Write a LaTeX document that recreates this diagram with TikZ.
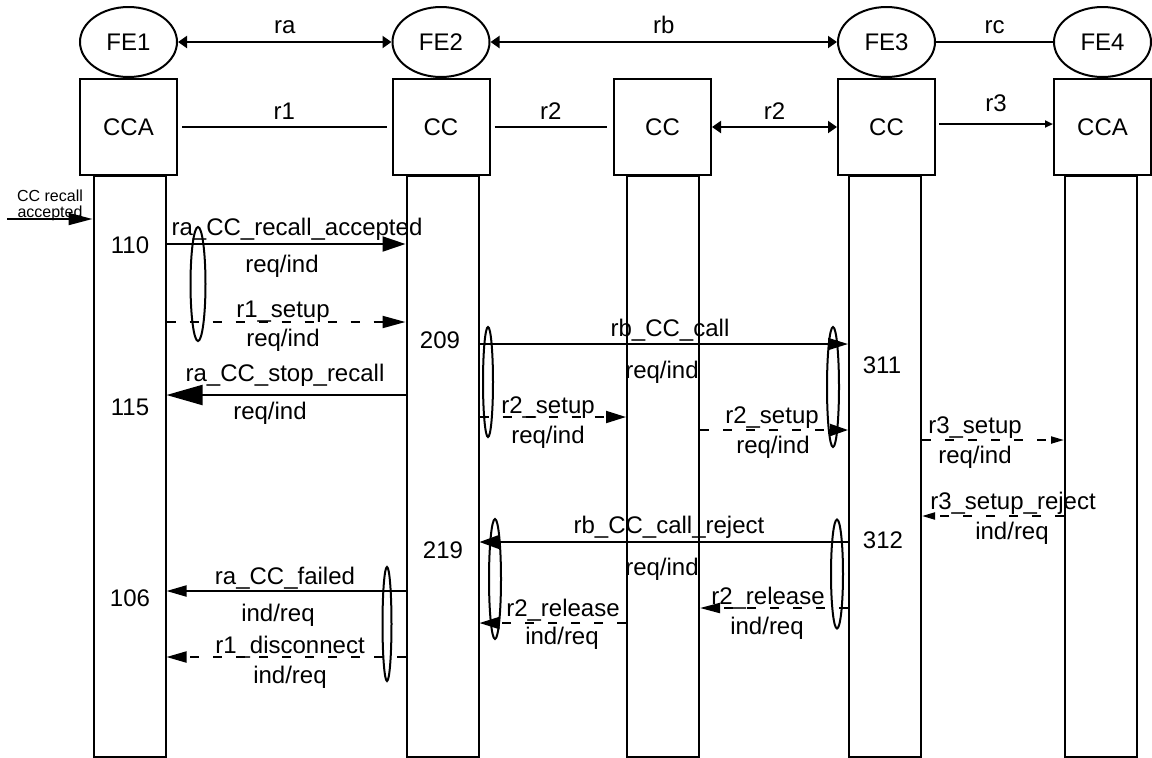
\documentclass[tikz,border=0pt]{standalone}
\usepackage{fontspec}
\setmainfont{Liberation Sans}
\usetikzlibrary{arrows.meta,positioning,shapes.geometric,calc}

\begin{document}
\begin{tikzpicture}[x=0.5pt, y=-0.5pt, line width=1pt,
  every node/.style={font=\fontsize{12}{14}\selectfont, inner sep=0pt},
  fe/.style={draw, ellipse, minimum width=48.5pt, minimum height=35pt},
  blk/.style={draw, minimum width=48.5pt, minimum height=48pt},
  life/.style={draw, anchor=north, minimum width=36pt, minimum height=290.5pt},
  sig/.style 2 args={-{Triangle[length=#1, width=#2]}},
  bi/.style={{Triangle[length=4.5pt, width=6pt]}-{Triangle[length=4.5pt, width=6pt]}},
  dsh/.style={dash pattern=on 4.5pt off 7pt},
  lnk/.style={midway, above=3.5pt}]
\useasboundingbox (0,0) rectangle (1152,757);

% Functional entities
\node[fe] (FE1) at (128.5,42) {FE1};
\node[fe] (FE2) at (441,42) {FE2};
\node[fe] (FE3) at (886.5,42) {FE3};
\node[fe] (FE4) at (1102.5,42) {FE4};
\node[blk] (A1) at (128.5,127) {CCA};
\node[blk] (A2) at (441,127) {CC};
\node[blk] (A3) at (662.5,127) {CC};
\node[blk] (A4) at (886.5,127) {CC};
\node[blk] (A5) at (1102.5,127) {CCA};

% Relationships
\draw[bi] (FE1) -- (FE2) node[lnk] (lra) {ra};
\draw[bi] (FE2) -- (FE3) node[lnk] (lrb) {rb};
\draw (FE3) -- (FE4) node[lnk] (lrc) {rc};
\draw ([xshift=2pt]A1.east) -- ([xshift=-2.5pt]A2.west) node[lnk] (lr1) {r1};
\draw ([xshift=2pt]A2.east) -- ([xshift=-3pt]A3.west) node[lnk] (lr2a) {r2};
\draw[bi] (A3) -- (A4) node[lnk] (lr2b) {r2};
\draw[-{Triangle[length=4pt, width=3.5pt]}] ([xshift=1.5pt, yshift=1.5pt]A4.east) -- ([yshift=1.5pt]A5.west)
  node[midway, above=5.5pt] (lr3) {r3};

% Lifelines
\node[life] (L1) at (129.5,175) {};
\node[life] (L2) at (442.5,175) {};
\node[life] (L3) at (663,175) {};
\node[life] (L4) at (885,175) {};
\node[life] (L5) at (1101,175) {};

% Input from the user side
\node[align=center, font=\fontsize{8}{8}\selectfont] (inp) at (50,205) {CC recall\\accepted};
\coordinate (inS) at (7,219);
\draw[sig={12pt}{6pt}] (inS) -- (L1.west |- inS);

% FE1 -> FE2
\draw[sig={11.5pt}{7.5pt}] (L1.east |- 0,244) -- (L2.west |- 0,244);
\node (m1a) at (297,229) {ra\_CC\_recall\_accepted};
\node (m1b) at (282,266) {req/ind};
\draw[dsh, sig={11.5pt}{6pt}] (L1.east |- 0,322) -- (L2.west |- 0,322);
\node (m2a) at (283,312) {r1\_setup};
\node (m2b) at (283,340) {req/ind};
\draw[sig={18pt}{10pt}] (L2.west |- 0,395) -- (L1.east |- 0,395);
\node (m3a) at (285,375) {ra\_CC\_stop\_recall};
\node (m3b) at (270,413) {req/ind};

% FE2 -> FE3
\draw[sig={10pt}{6pt}] (L2.east |- 0,344) -- (L4.west |- 0,344);
\node (m4a) at (670,330) {rb\_CC\_call};
\node (m4b) at (662,372) {req/ind};
\draw[dsh, sig={10pt}{6pt}] (L2.east |- 0,417) -- (L3.west |- 0,417);
\node (m5a) at (548,408) {r2\_setup};
\node (m5b) at (548,437) {req/ind};
\draw[dsh, sig={9pt}{6pt}] (L3.east |- 0,430) -- (L4.west |- 0,430);
\node (m6a) at (772,418) {r2\_setup};
\node (m6b) at (773,447) {req/ind};

% FE3 -> FE4
\draw[dsh, sig={6.5pt}{3.5pt}] (L4.east |- 0,440) -- (L5.west |- 0,440);
\node (m7a) at (975,428) {r3\_setup};
\node (m7b) at (975,457) {req/ind};
\draw[dsh, sig={6.5pt}{3.5pt}] (L5.west |- 0,516) -- (L4.east |- 0,516);
\node (m8a) at (1013,503) {r3\_setup\_reject};
\node (m8b) at (1012,533) {ind/req};

% Release back towards FE1
\draw[sig={10pt}{7pt}] (L4.west |- 0,542) -- (L2.east |- 0,542);
\node (m9a) at (669,527) {rb\_CC\_call\_reject};
\node (m9b) at (662,569) {req/ind};
\draw[dsh, sig={10pt}{5pt}] (L4.west |- 0,608) -- (L3.east |- 0,608);
\node (m10a) at (768,598) {r2\_release};
\node (m10b) at (767,628) {ind/req};
\draw[dsh, sig={10pt}{6pt}] (L3.west |- 0,623) -- (L2.east |- 0,623);
\node (m11a) at (563,610) {r2\_release};
\node (m11b) at (562,638) {ind/req};
\draw[sig={10pt}{5.5pt}] (L2.west |- 0,591) -- (L1.east |- 0,591);
\node (m12a) at (285,578) {ra\_CC\_failed};
\node (m12b) at (278,615) {ind/req};
\draw[dsh, sig={10pt}{5.5pt}] (L2.west |- 0,657) -- (L1.east |- 0,657);
\node (m13a) at (290,647) {r1\_disconnect};
\node (m13b) at (290,677) {ind/req};

% SDL state numbers
\node (n110) at (130,245) {110};
\node (n115) at (130,407) {115};
\node (n106) at (130,598) {106};
\node (n209) at (440,340) {209};
\node (n219) at (443,550) {219};
\node (n311) at (882,365) {311};
\node (n312) at (883,540) {312};

% Grouping ellipses
\draw (198,284) ellipse [x radius=7.5, y radius=57];
\draw (488,382) ellipse [x radius=5, y radius=55];
\draw (833,387) ellipse [x radius=6, y radius=60];
\draw (495,579) ellipse [x radius=6, y radius=60];
\draw (837,574) ellipse [x radius=6, y radius=54.5];
\draw (387,624) ellipse [x radius=4.5, y radius=57];
\end{tikzpicture}
\end{document}
